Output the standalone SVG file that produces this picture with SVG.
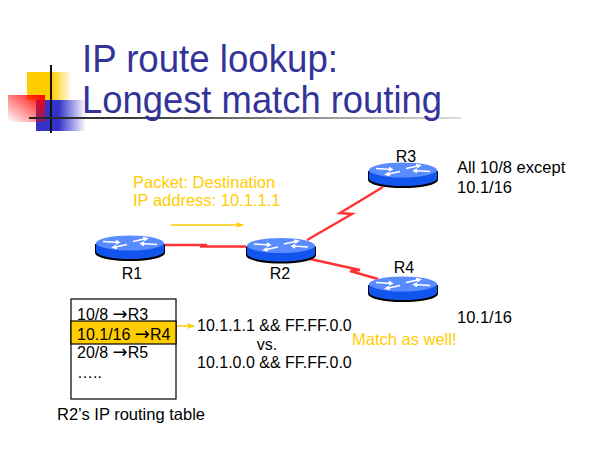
<svg xmlns="http://www.w3.org/2000/svg" width="600" height="450" viewBox="0 0 600 450">
<style>
  .title{font-family:"Liberation Sans",Arial,sans-serif;font-size:39px;fill:#333399}
  .lbl{font-family:"Liberation Sans",Arial,sans-serif;font-size:16px;fill:#000}
  .txt{font-family:"Liberation Sans",Arial,sans-serif;font-size:16.5px;fill:#000}
  .tbl{font-family:"Liberation Sans",Arial,sans-serif;font-size:16px;fill:#000}
  .arr{font-family:"DejaVu Sans",sans-serif;font-size:18px}
  .gold{fill:#FFCC00}
  .link{fill:none;stroke:#FF3333;stroke-width:2.5;stroke-linejoin:miter}
  .yarrow{fill:none;stroke:#FFCC00;stroke-width:1.5}
</style>
<defs>
  <linearGradient id="gY" x1="0" y1="0" x2="1" y2="0">
    <stop offset="0" stop-color="#FFCC00"/><stop offset="0.55" stop-color="#FFCC00"/><stop offset="1" stop-color="#FFCC00" stop-opacity="0"/>
  </linearGradient>
  <linearGradient id="gB" x1="0" y1="0" x2="1" y2="0">
    <stop offset="0" stop-color="#3333CC"/><stop offset="0.45" stop-color="#3333CC"/><stop offset="1" stop-color="#3333CC" stop-opacity="0"/>
  </linearGradient>
  <linearGradient id="gR" x1="1" y1="0" x2="0" y2="1">
    <stop offset="0" stop-color="#FF0000"/><stop offset="1" stop-color="#FF0000" stop-opacity="0"/>
  </linearGradient>
  <linearGradient id="gL" x1="0" y1="0" x2="1" y2="0">
    <stop offset="0" stop-color="#222"/><stop offset="0.3" stop-color="#444"/><stop offset="1" stop-color="#ddd"/>
  </linearGradient>
  <marker id="ah" markerWidth="8" markerHeight="6" refX="7" refY="3" orient="auto" markerUnits="userSpaceOnUse">
    <path d="M0,0 L8,3 L0,6 L2,3 z" fill="#FFCC00"/>
  </marker>
  <g id="router">
    <path d="M-35,1 v9 a35,8 0 0 0 70,0 v-9 z" fill="#000"/>
    <path d="M-34,0 v8.5 a34,7.5 0 0 0 68,0 v-8.5 z" fill="#1155EE"/>
    <ellipse cx="0" cy="0" rx="34" ry="7.5" fill="#5B8CFF"/>
    <g stroke="#FFFFFF" stroke-width="1.6" fill="none">
      <path d="M-27,-1.5 L-11,-0.5 M-14,-2.5 L-11,-0.5 L-14,1"/>
      <path d="M27,1.5 L11,0.5 M14,2.5 L11,0.5 L14,-1"/>
      <path d="M3,-1.5 L17,-4.5 M13,-5.5 L17,-4.5 L14,-2.5"/>
      <path d="M-3,1.5 L-17,4.5 M-13,5.5 L-17,4.5 L-14,2.5"/>
    </g>
  </g>
</defs>
<rect width="600" height="450" fill="#FFFFFF"/>

<g id="logo">
  <rect x="27" y="72" width="45" height="28" fill="url(#gY)"/>
  <rect x="36" y="100" width="50" height="31" fill="url(#gB)"/>
  <rect x="8" y="95" width="37" height="27" fill="url(#gR)"/>
  <rect x="50" y="65" width="2" height="68" fill="#111"/>
  <rect x="29" y="117" width="432" height="2" fill="url(#gL)"/>
</g>

<g id="title">
  <text class="title" x="82" y="72" textLength="256" lengthAdjust="spacingAndGlyphs">IP route lookup:</text>
  <text class="title" x="82" y="113" textLength="360" lengthAdjust="spacingAndGlyphs">Longest match routing</text>
</g>

<g id="connectors">
  <polyline class="link" points="165,245 207,245 200,246.5 246,246.5"/>
  <polyline class="link" points="307,240 352,214 340,213 383,187"/>
  <polyline class="link" points="310,259 360,270 350,271 378,279"/>
  <line class="yarrow" x1="171" y1="225" x2="243" y2="225" marker-end="url(#ah)"/>
  <line class="yarrow" x1="176" y1="326" x2="194" y2="326" marker-end="url(#ah)"/>
</g>

<g id="R1">
  <use href="#router" x="130" y="243"/>
  <text class="lbl" x="132" y="279" text-anchor="middle">R1</text>
</g>
<g id="R2">
  <use href="#router" x="281" y="245.5"/>
  <text class="lbl" x="280" y="279" text-anchor="middle">R2</text>
</g>
<g id="R3">
  <use href="#router" x="403" y="170"/>
  <text class="lbl" x="406" y="162" text-anchor="middle">R3</text>
</g>
<g id="R4">
  <use href="#router" x="403" y="284"/>
  <text class="lbl" x="404" y="273" text-anchor="middle">R4</text>
</g>

<g id="packet-label">
  <text class="txt gold" x="133" y="188">Packet: Destination</text>
  <text class="txt gold" x="133" y="206">IP address: 10.1.1.1</text>
</g>

<g id="r3-note">
  <text class="txt" x="457" y="173">All 10/8 except</text>
  <text class="txt" x="457" y="193">10.1/16</text>
</g>
<g id="r4-note">
  <text class="txt" x="457" y="323">10.1/16</text>
  <text class="txt gold" x="352" y="345">Match as well!</text>
</g>

<g id="routing-table">
  <rect x="71" y="299" width="105" height="100" fill="#FFFFFF" stroke="#000" stroke-width="1.2"/>
  <rect x="71" y="321" width="105" height="23" fill="#FFCC00" stroke="#000" stroke-width="1.2"/>
  <text class="tbl" x="77" y="320">10/8 <tspan class="arr">→</tspan>R3</text>
  <text class="tbl" x="77" y="340">10.1/16 <tspan class="arr">→</tspan>R4</text>
  <text class="tbl" x="77" y="358">20/8 <tspan class="arr">→</tspan>R5</text>
  <text class="tbl" x="77" y="378">…..</text>
  <text class="txt" x="57" y="420">R2’s IP routing table</text>
</g>

<g id="comparison">
  <text class="tbl" x="197" y="331">10.1.1.1 &amp;&amp; FF.FF.0.0</text>
  <text class="tbl" x="267" y="350" text-anchor="middle">vs.</text>
  <text class="tbl" x="197" y="368">10.1.0.0 &amp;&amp; FF.FF.0.0</text>
</g>
</svg>
